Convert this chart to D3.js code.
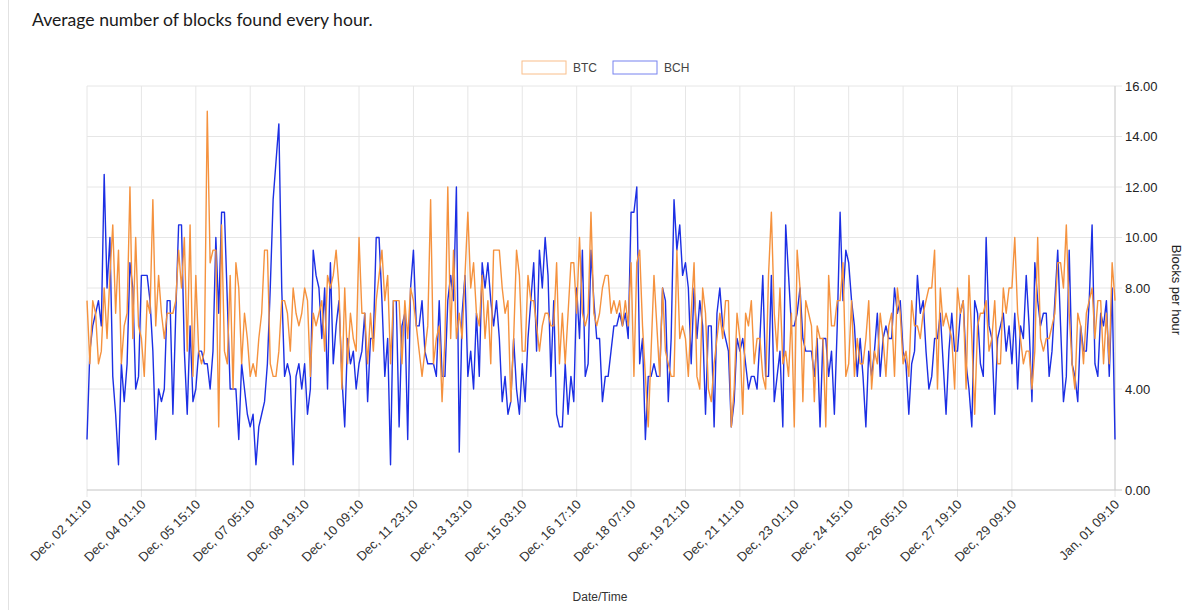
<!DOCTYPE html>
<html>
<head>
<meta charset="utf-8">
<script src="https://cdn.jsdelivr.net/npm/d3@7"></script>
<style>
body { margin: 0; background: #fff; }
text { font-family: "Liberation Sans", Arial, sans-serif; }
</style>
</head>
<body>
<script>

// one reading every 2 hours, starting Dec 02 11:10
const startTime = new Date(2017, 11, 2, 11, 10)
const stepHours = 2

const btc = [
    7.5, 5.0, 7.5, 7.0, 5.0, 5.5, 8.0, 6.0, 8.5, 10.5, 7.0, 9.5, 5.0, 6.5, 7.0, 12.0, 6.0, 10.0, 6.5, 6.0, 4.5, 7.5, 7.0, 11.5, 6.5, 8.5, 7.0, 6.0, 7.0, 7.0, 7.0, 7.5, 9.5, 8.0, 10.0, 5.5, 10.5, 4.5, 8.5, 5.5, 5.0, 5.5, 15.0,
    9.0, 9.5, 9.5, 2.5, 10.5, 5.5, 5.0, 8.5, 4.0, 9.0, 8.0, 5.0, 7.0, 6.0, 4.5, 5.0, 4.5, 6.0, 7.0, 9.5, 9.5, 5.0, 4.5, 4.5, 5.5, 7.5, 7.5, 7.0, 5.5, 8.0, 7.0, 6.5, 7.0, 8.0, 7.5, 4.5, 7.0, 6.5, 7.0, 7.5, 5.5, 8.5,
    8.0, 8.5, 9.5, 8.0, 4.0, 8.0, 5.0, 7.0, 6.0, 5.5, 10.0, 7.0, 7.0, 5.0, 7.0, 5.5, 7.5, 8.5, 9.5, 7.5, 8.5, 5.0, 7.5, 7.5, 7.5, 5.0, 7.5, 6.0, 8.0, 7.5, 6.5, 5.5, 4.5, 5.5, 6.5, 11.5, 5.0, 6.0, 6.5, 3.5, 6.0, 12.0,
    6.0, 9.5, 6.0, 7.0, 6.0, 8.5, 11.0, 8.0, 9.0, 7.0, 6.5, 8.5, 6.0, 7.5, 5.0, 9.5, 9.5, 9.5, 8.0, 7.0, 7.5, 3.5, 6.0, 9.5, 8.5, 5.5, 5.5, 8.5, 7.5, 7.5, 6.5, 5.5, 6.5, 7.0, 7.0, 6.5, 6.5, 9.0, 5.0, 7.0, 5.0, 7.0,
    9.0, 9.0, 7.0, 10.0, 7.0, 6.5, 7.0, 11.0, 7.0, 6.5, 7.0, 8.0, 8.5, 8.5, 7.0, 7.5, 7.0, 7.5, 6.5, 7.5, 6.5, 9.0, 4.5, 9.0, 9.5, 6.5, 4.5, 2.5, 5.5, 8.5, 6.5, 4.5, 8.0, 5.5, 5.0, 4.5, 4.5, 9.5, 6.0, 6.5, 6.0, 4.5,
    7.0, 9.0, 4.5, 4.0, 8.0, 7.0, 4.0, 3.5, 5.0, 6.0, 7.0, 6.0, 7.5, 7.5, 2.5, 4.0, 7.0, 6.0, 3.0, 7.0, 6.5, 7.5, 5.0, 6.0, 6.0, 4.5, 4.0, 8.5, 11.0, 7.0, 5.5, 8.0, 5.0, 5.5, 4.5, 7.0, 2.5, 9.5, 8.0, 3.5, 7.5, 7.0,
    6.5, 3.5, 6.5, 6.0, 6.0, 2.5, 8.5, 6.5, 6.5, 7.5, 7.5, 9.0, 4.5, 5.0, 7.5, 4.5, 6.0, 5.0, 5.0, 6.0, 7.5, 4.0, 5.5, 5.0, 7.0, 6.0, 4.5, 6.5, 7.0, 4.5, 8.0, 7.0, 5.0, 5.5, 4.5, 7.5, 6.5, 6.5, 6.0, 7.0, 7.5,
    8.0, 8.0, 9.5, 4.0, 8.0, 6.5, 7.0, 6.5, 6.0, 4.0, 8.0, 7.0, 7.5, 4.0, 8.5, 6.0, 3.0, 6.5, 7.0, 7.0, 7.5, 5.5, 6.0, 7.5, 5.0, 5.0, 8.0, 7.0, 8.0, 8.0, 10.0, 7.0, 6.0, 5.0, 5.5, 5.5, 4.0, 5.5, 10.0, 6.0, 5.5, 6.0,
    6.0, 6.5, 7.0, 9.0, 9.0, 8.0, 10.5, 7.0, 5.0, 4.0, 7.0, 6.5, 5.0, 7.0, 7.5, 8.0, 6.0, 7.5, 7.5, 5.0, 7.0, 5.0, 9.0, 7.5
]

const bch = [
    2.0, 5.5, 6.5, 7.0, 7.5, 6.5, 12.5, 8.0, 10.0, 4.5, 3.0, 1.0, 5.0, 3.5, 5.0, 9.0, 8.0, 4.0, 4.5, 8.5, 8.5, 8.5, 7.5, 5.5, 2.0, 4.0, 3.5, 4.0, 7.5, 7.5, 3.0, 7.0, 10.5, 10.5, 5.5, 3.0, 6.5, 3.5, 4.0, 5.5, 5.5, 5.0, 5.0,
    4.0, 5.5, 10.0, 7.0, 11.0, 11.0, 7.5, 4.0, 4.0, 4.0, 2.0, 5.0, 4.0, 3.0, 2.5, 3.0, 1.0, 2.5, 3.0, 3.5, 5.0, 8.0, 11.5, 13.0, 14.5, 8.0, 4.5, 5.0, 4.5, 1.0, 4.5, 5.0, 4.0, 5.0, 3.0, 4.0, 9.5, 8.5, 8.0, 6.0, 8.0, 4.0,
    9.0, 5.0, 6.5, 7.5, 4.5, 2.5, 6.0, 5.0, 5.5, 4.0, 5.0, 5.5, 7.0, 3.5, 6.0, 6.0, 10.0, 10.0, 7.5, 4.5, 6.0, 1.0, 7.5, 7.5, 2.5, 6.5, 7.0, 2.0, 8.0, 9.5, 6.5, 6.5, 7.5, 5.5, 5.0, 5.0, 5.0, 4.5, 7.5, 4.5, 4.5, 7.5,
    8.5, 7.5, 12.0, 1.5, 7.0, 8.5, 4.5, 5.5, 4.0, 7.0, 4.5, 9.0, 8.0, 9.0, 7.5, 6.5, 7.5, 6.0, 3.5, 4.5, 3.0, 3.5, 6.0, 4.0, 3.0, 5.0, 3.5, 6.0, 7.5, 9.0, 5.5, 9.5, 8.0, 10.0, 8.5, 4.5, 7.5, 3.0, 2.5, 2.5, 5.0, 3.0,
    4.5, 3.5, 8.0, 6.0, 9.5, 4.5, 5.0, 9.5, 7.5, 6.0, 6.0, 3.5, 4.5, 4.5, 5.5, 6.5, 6.5, 7.0, 6.5, 7.0, 6.0, 11.0, 11.0, 12.0, 5.0, 6.0, 2.0, 4.5, 4.5, 5.0, 4.5, 4.5, 8.0, 7.5, 3.5, 6.0, 11.5, 9.5, 10.5, 8.5, 9.0, 8.0,
    5.0, 8.0, 6.0, 7.5, 6.5, 3.0, 6.5, 6.5, 2.5, 7.0, 8.0, 6.5, 6.0, 5.5, 2.5, 3.5, 6.0, 5.5, 6.0, 5.0, 4.0, 4.5, 4.5, 4.0, 6.0, 8.5, 4.5, 4.5, 8.5, 3.5, 4.5, 5.5, 2.5, 10.5, 8.5, 6.5, 6.5, 7.0, 8.0, 6.0, 5.5, 5.5,
    5.5, 4.5, 6.0, 2.5, 6.0, 6.0, 4.5, 5.5, 3.0, 6.5, 11.0, 7.5, 9.5, 9.0, 7.5, 6.5, 4.5, 6.0, 4.5, 2.5, 5.5, 4.5, 5.5, 7.0, 4.5, 6.0, 6.5, 6.0, 6.0, 8.0, 7.0, 7.5, 5.5, 5.0, 3.0, 5.0, 5.5, 8.5, 7.0, 7.5, 5.5,
    4.0, 4.5, 6.0, 6.0, 7.0, 5.0, 3.0, 5.5, 7.0, 5.5, 5.5, 7.0, 7.5, 5.0, 4.0, 2.5, 7.5, 7.0, 5.0, 4.5, 10.0, 6.5, 6.0, 3.0, 6.0, 6.5, 7.0, 5.5, 6.5, 5.0, 7.0, 4.0, 6.5, 6.0, 8.5, 6.5, 3.5, 9.0, 7.5, 6.5, 7.0, 7.0,
    4.5, 5.5, 7.5, 9.5, 6.5, 3.5, 4.5, 9.5, 5.0, 4.5, 3.5, 6.5, 5.5, 5.5, 7.5, 10.5, 5.0, 4.5, 7.0, 6.5, 7.5, 4.5, 8.0, 2.0
]

// labelled points on the time axis (every 19th reading plus the last one)
const xTickIndex = [0, 19, 38, 57, 76, 95, 114, 133, 152, 171, 190, 209, 228, 247, 266, 285, 304, 323, 359]
const yTicks = [0, 4, 8, 10, 12, 14, 16]

const times = btc.map((d, i) => d3.timeHour.offset(startTime, i * stepHours))

const svg = d3.select("body")
    .append("svg")
    .attr("width", 1200)
    .attr("height", 610);

const x = d3.scaleTime()
    .domain([times[0], times[times.length - 1]])
    .range([87, 1115]);

const y = d3.scaleLinear()
    .domain([0, 16])
    .range([490, 86]);

// page frame line + title
svg.append("line")
    .attr("x1", 8.5).attr("x2", 8.5)
    .attr("y1", 0).attr("y2", 610)
    .attr("stroke", "#e2e2e2");

svg.append("text")
    .text("Average number of blocks found every hour.")
    .attr("x", 32)
    .attr("y", 26)
    .style("font-family", "Lato, 'Open Sans', sans-serif")
    .style("font-size", "17.6px")
    .attr("fill", "#1a1a1a");

// grid
svg.append("g")
    .selectAll("line")
    .data(xTickIndex)
    .enter()
    .append("line")
    .attr("x1", (d) => x(times[d]))
    .attr("x2", (d) => x(times[d]))
    .attr("y1", 86)
    .attr("y2", 497)
    .attr("stroke", "#e6e6e6");

svg.append("g")
    .selectAll("line")
    .data(yTicks)
    .enter()
    .append("line")
    .attr("x1", 87)
    .attr("x2", 1122)
    .attr("y1", (d) => y(d))
    .attr("y2", (d) => y(d))
    .attr("stroke", (d) => d === 0 ? "#c4c4c4" : "#e6e6e6");

svg.append("line")
    .attr("x1", 1115).attr("x2", 1115)
    .attr("y1", 86).attr("y2", 490)
    .attr("stroke", "#d0d0d0");

// y axis labels (right)
svg.append("g")
    .selectAll("text")
    .data(yTicks)
    .enter()
    .append("text")
    .text((d) => d3.format(".2f")(d))
    .attr("x", 1125)
    .attr("y", (d) => y(d))
    .attr("dy", "0.35em")
    .style("font-size", "13px")
    .attr("fill", "#222");

svg.append("text")
    .text("Blocks per hour")
    .attr("transform", "translate(1172,290) rotate(90)")
    .attr("text-anchor", "middle")
    .style("font-size", "13px")
    .attr("fill", "#222");

// x axis labels
const fmt = d3.timeFormat("%b, %d %H:%M")

svg.append("g")
    .selectAll("text")
    .data(xTickIndex)
    .enter()
    .append("text")
    .text((d) => fmt(times[d]))
    .attr("transform", (d) => `translate(${x(times[d]) + 2},502) rotate(-45)`)
    .attr("text-anchor", "end")
    .attr("dy", "0.35em")
    .style("font-size", "13px")
    .attr("fill", "#333");

svg.append("text")
    .text("Date/Time")
    .attr("x", 600)
    .attr("y", 601)
    .attr("text-anchor", "middle")
    .style("font-size", "12px")
    .attr("fill", "#333");

// lines
const series = [
    { name: "BCH", values: bch, color: "#1c2fe4" },
    { name: "BTC", values: btc, color: "#f5923e" }
]

const line = d3.line()
    .x((d, i) => x(times[i]))
    .y((d) => y(d));

svg.selectAll("path.series")
    .data(series)
    .enter()
    .append("path")
    .attr("class", "series")
    .attr("d", (d) => line(d.values))
    .attr("fill", "none")
    .attr("stroke", (d) => d.color)
    .attr("stroke-width", 1.4)
    .attr("stroke-linejoin", "round");

// legend
const legend = [
    { name: "BTC", color: "#f5923e", x: 522 },
    { name: "BCH", color: "#1c2fe4", x: 613 }
]

const lg = svg.selectAll("g.legend")
    .data(legend)
    .enter()
    .append("g")
    .attr("class", "legend")
    .attr("transform", (d) => `translate(${d.x},61)`);

lg.append("rect")
    .attr("width", 44)
    .attr("height", 13)
    .attr("fill", "#fff")
    .attr("stroke", (d) => d.color)
    .attr("stroke-opacity", 0.6);

lg.append("text")
    .text((d) => d.name)
    .attr("x", 51)
    .attr("y", 11)
    .style("font-size", "12px")
    .attr("fill", "#444");

</script>
</body>
</html>
